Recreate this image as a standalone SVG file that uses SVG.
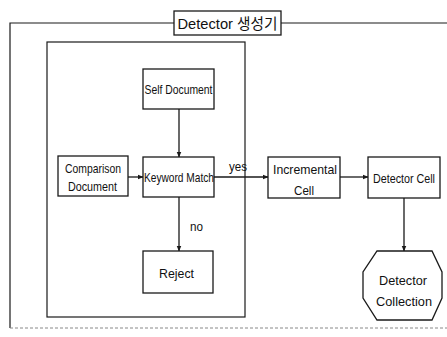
<svg xmlns="http://www.w3.org/2000/svg" width="447" height="337" viewBox="0 0 447 337">
<style>
.box{fill:#fff;stroke:#1a1a1a;stroke-width:1.3}
.frame{fill:none;stroke:#1a1a1a;stroke-width:1.2}
.t{font-family:"Liberation Sans",Arial,sans-serif;font-size:13px;fill:#111;text-anchor:middle}
.c{stroke:#1a1a1a;stroke-width:1.3;fill:none;marker-end:url(#ah)}
</style>
<defs>
<marker id="ah" viewBox="0 0 10 10" refX="9" refY="5" markerWidth="6" markerHeight="6" orient="auto" markerUnits="userSpaceOnUse">
<path d="M0,1 L10,5 L0,9 z" fill="#1a1a1a"/>
</marker>
</defs>
<rect width="447" height="337" fill="#fff"/>
<g id="outer-frame">
<path class="frame" d="M448,23 L10,23 L10,328"/>
<path d="M10,328 L448,328" fill="none" stroke="#888" stroke-width="1" stroke-dasharray="3,2"/>
</g>
<g id="title">
<rect class="box" x="174" y="11" width="107" height="24"/>
<text x="227.5" y="29" font-family="'Liberation Sans','Noto Sans CJK KR',sans-serif" font-size="15" text-anchor="middle" textLength="100" lengthAdjust="spacingAndGlyphs" fill="#111">Detector 생성기</text>
</g>
<g id="inner-frame">
<rect class="frame" x="47" y="42" width="198" height="275"/>
</g>
<g id="connectors">
<line class="c" x1="179" y1="109" x2="179" y2="157"/>
<line class="c" x1="128" y1="177" x2="143" y2="177"/>
<line class="c" x1="214" y1="177" x2="268" y2="177"/>
<line class="c" x1="179" y1="197" x2="179" y2="251"/>
<line class="c" x1="340" y1="177" x2="368" y2="177"/>
<line class="c" x1="404" y1="198" x2="404" y2="251"/>
<text class="t" x="238" y="171" textLength="18" lengthAdjust="spacingAndGlyphs">yes</text>
<text class="t" x="196.5" y="231" textLength="13" lengthAdjust="spacingAndGlyphs">no</text>
</g>
<g id="self-document">
<rect class="box" x="143" y="69" width="71" height="40"/>
<text class="t" x="178.5" y="94" textLength="68" lengthAdjust="spacingAndGlyphs">Self Document</text>
</g>
<g id="comparison-document">
<rect class="box" x="58" y="156" width="70" height="40"/>
<text class="t" x="93" y="173" textLength="56" lengthAdjust="spacingAndGlyphs">Comparison</text>
<text class="t" x="92.5" y="191" textLength="49" lengthAdjust="spacingAndGlyphs">Document</text>
</g>
<g id="keyword-match">
<rect class="box" x="143" y="157" width="71" height="40"/>
<text class="t" x="179" y="182" textLength="70" lengthAdjust="spacingAndGlyphs">Keyword Match</text>
</g>
<g id="reject">
<rect class="box" x="143" y="251" width="70" height="42"/>
<text class="t" x="176.5" y="278" textLength="35" lengthAdjust="spacingAndGlyphs">Reject</text>
</g>
<g id="incremental-cell">
<rect class="box" x="268" y="157" width="72" height="41"/>
<text class="t" x="305" y="174" textLength="64" lengthAdjust="spacingAndGlyphs">Incremental</text>
<text class="t" x="304" y="195" textLength="20" lengthAdjust="spacingAndGlyphs">Cell</text>
</g>
<g id="detector-cell">
<rect class="box" x="368" y="157" width="72" height="41"/>
<text class="t" x="404" y="183" textLength="62" lengthAdjust="spacingAndGlyphs">Detector Cell</text>
</g>
<g id="detector-collection">
<polygon class="box" points="377,251 432,251 442,272 442,298 432,320 377,320 363,298 363,272"/>
<text class="t" x="403" y="285" textLength="48" lengthAdjust="spacingAndGlyphs">Detector</text>
<text class="t" x="404" y="306" textLength="56" lengthAdjust="spacingAndGlyphs">Collection</text>
</g>
</svg>
